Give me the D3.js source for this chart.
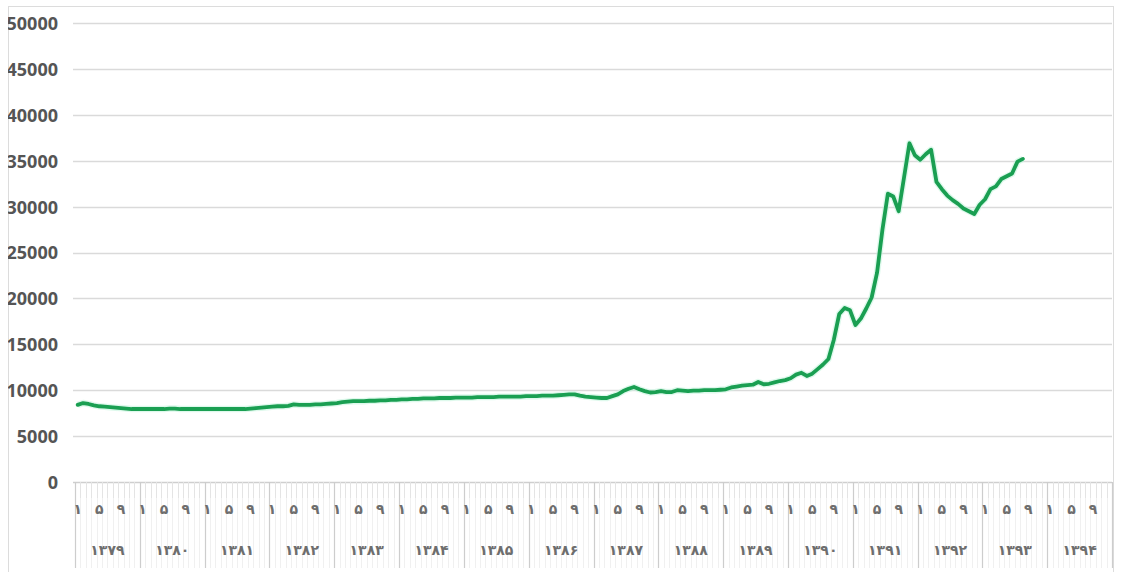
<!DOCTYPE html>
<html>
<head>
<meta charset="utf-8">
<script src="https://cdn.jsdelivr.net/npm/d3@7"></script>
<style>
  html, body { margin: 0; padding: 0; background: #ffffff; }
  svg { display: block; }
</style>
</head>
<body>
<svg id="chart" width="1123" height="572"></svg>
<script>
// Solar-hijri years shown on the category axis
const years = ["۱۳۷۹","۱۳۸۰","۱۳۸۱","۱۳۸۲","۱۳۸۳","۱۳۸۴","۱۳۸۵","۱۳۸۶",
               "۱۳۸۷","۱۳۸۸","۱۳۸۹","۱۳۹۰","۱۳۹۱","۱۳۹۲","۱۳۹۳","۱۳۹۴"];
// month numbers that get a label inside each year
const monthLabels = { 0: "۱", 4: "۵", 8: "۹" };
const yTicks = [0, 5000, 10000, 15000, 20000, 25000, 30000, 35000, 40000, 45000, 50000];

// monthly values, one array per year
const v1379 = [8400, 8600, 8500, 8350, 8250, 8200, 8150, 8100, 8050, 8000, 7950, 7950];
const v1380 = [7950, 7950, 7950, 7950, 7950, 8000, 8000, 7950, 7950, 7950, 7950, 7950];
const v1381 = [7950, 7950, 7950, 7950, 7950, 7950, 7950, 7950, 8000, 8050, 8100, 8150];
const v1382 = [8200, 8250, 8250, 8300, 8450, 8400, 8400, 8400, 8450, 8450, 8500, 8550];
const v1383 = [8600, 8700, 8750, 8800, 8800, 8800, 8850, 8850, 8900, 8900, 8950, 8950];
const v1384 = [9000, 9000, 9050, 9050, 9100, 9100, 9100, 9150, 9150, 9150, 9200, 9200];
const v1385 = [9200, 9200, 9250, 9250, 9250, 9250, 9300, 9300, 9300, 9300, 9300, 9350];
const v1386 = [9350, 9350, 9400, 9400, 9400, 9450, 9500, 9550, 9550, 9400, 9300, 9250];
const v1387 = [9200, 9150, 9150, 9350, 9550, 9900, 10150, 10350, 10100, 9900, 9750, 9800];
const v1388 = [9900, 9800, 9800, 10000, 9950, 9900, 9950, 9950, 10000, 10000, 10000, 10050];
const v1389 = [10100, 10300, 10400, 10500, 10550, 10600, 10900, 10650, 10700, 10850, 11000, 11100];
const v1390 = [11300, 11700, 11900, 11550, 11800, 12300, 12800, 13400, 15500, 18300, 18950, 18700];
const v1391 = [17100, 17800, 18900, 20100, 22800, 27500, 31400, 31100, 29500, 33200, 36900, 35600];
const v1392 = [35100, 35700, 36200, 32700, 31900, 31200, 30700, 30300, 29800, 29500, 29200, 30200];
const v1393 = [30800, 31900, 32200, 33000, 33300, 33600, 34900, 35200];

const yearly = [v1379, v1380, v1381, v1382, v1383, v1384, v1385, v1386,
                v1387, v1388, v1389, v1390, v1391, v1392, v1393];

const svg = d3.select("#chart");
const W = 1123, H = 572;
const plot = { left: 75, right: 1112, top: 23, bottom: 482 };
const axisBottom = 568;

// one band per month across all years
const monthKeys = [];
years.forEach((y, yi) => { for (let m = 0; m < 12; m++) monthKeys.push(yi * 12 + m); });
const x = d3.scaleBand().domain(monthKeys).range([plot.left, plot.right]).padding(0);
const y = d3.scaleLinear().domain([0, 50000]).range([plot.bottom, plot.top]);

const points = [];
yearly.forEach((arr, yi) => arr.forEach((v, m) => points.push({ k: yi * 12 + m, v })));

// outer frame
svg.append("rect")
  .attr("x", 8.5).attr("y", 6.5).attr("width", 1105).attr("height", 600)
  .attr("fill", "none").attr("stroke", "#dcdcdc").attr("stroke-width", 1);

// horizontal gridlines
svg.append("g").selectAll("line").data(yTicks).join("line")
  .attr("x1", plot.left - 2).attr("x2", plot.right)
  .attr("y1", d => Math.round(y(d)) + 0.5).attr("y2", d => Math.round(y(d)) + 0.5)
  .attr("stroke", d => d === 0 ? "#cfcfcf" : "#dadada")
  .attr("stroke-width", 1.6);

// value axis labels, clipped by the frame edge
svg.append("clipPath").attr("id", "yclip")
  .append("rect").attr("x", 8).attr("y", 0).attr("width", 80).attr("height", H);
const yAxis = d3.axisLeft(y).tickValues(yTicks).tickSize(0).tickPadding(0).tickFormat(d3.format("d"));
const yg = svg.append("g")
  .attr("clip-path", "url(#yclip)")
  .append("g")
  .attr("transform", "translate(58,0)")
  .call(yAxis);
yg.select(".domain").remove();
yg.selectAll("text")
  .attr("font-family", "'Open Sans', sans-serif")
  .attr("font-weight", 700)
  .attr("font-size", 18)
  .attr("fill", "#555555")
  .attr("dy", "0.36em");

// category axis: month ticks and year separators
const cat = svg.append("g");
const monthEdges = monthKeys.map(k => x(k)).concat([plot.right]);
cat.selectAll("line.m").data(monthEdges).join("line")
  .attr("class", "m")
  .attr("x1", d => Math.round(d) + 0.5).attr("x2", d => Math.round(d) + 0.5)
  .attr("y1", plot.bottom).attr("y2", axisBottom)
  .attr("stroke", "#f0f0f0").attr("stroke-width", 1);
cat.selectAll("line.mt").data(monthEdges).join("line")
  .attr("class", "mt")
  .attr("x1", d => Math.round(d) + 0.5).attr("x2", d => Math.round(d) + 0.5)
  .attr("y1", plot.bottom).attr("y2", plot.bottom + 16)
  .attr("stroke", "#e4e4e4").attr("stroke-width", 1);
const yearEdges = d3.range(years.length + 1).map(i => i < years.length ? x(i * 12) : plot.right);
cat.selectAll("line.yr").data(yearEdges).join("line")
  .attr("class", "yr")
  .attr("x1", d => Math.round(d) + 0.5).attr("x2", d => Math.round(d) + 0.5)
  .attr("y1", plot.bottom).attr("y2", axisBottom)
  .attr("stroke", "#cdcdcd").attr("stroke-width", 1.2);

// month labels
const mLab = [];
years.forEach((yr, yi) => Object.keys(monthLabels).forEach(m => mLab.push({ k: yi * 12 + (+m), t: monthLabels[m] })));
cat.selectAll("text.m").data(mLab).join("text")
  .attr("class", "m")
  .attr("x", d => x(d.k) + x.bandwidth() / 2)
  .attr("y", 510)
  .attr("text-anchor", "middle")
  .attr("dominant-baseline", "middle")
  .attr("font-family", "'DejaVu Sans', sans-serif")
  .attr("font-weight", "bold")
  .attr("font-size", 14)
  .attr("fill", "#6e6e6e")
  .text(d => d.t);

// year labels
cat.selectAll("text.y").data(years).join("text")
  .attr("class", "y")
  .attr("x", (d, i) => x(i * 12) + x.bandwidth() * 6)
  .attr("y", 551)
  .attr("text-anchor", "middle")
  .attr("dominant-baseline", "middle")
  .attr("font-family", "'DejaVu Sans', sans-serif")
  .attr("font-weight", "bold")
  .attr("font-size", 14)
  .attr("fill", "#6e6e6e")
  .text(d => d);

// price line
const line = d3.line()
  .x(d => x(d.k) + x.bandwidth() / 2)
  .y(d => y(d.v))
  .curve(d3.curveLinear);

svg.append("path")
  .datum(points)
  .attr("d", line)
  .attr("fill", "none")
  .attr("stroke", "#c8f5e0")
  .attr("stroke-width", 6.5)
  .attr("stroke-linejoin", "round")
  .attr("opacity", 0.6);

svg.append("path")
  .datum(points)
  .attr("d", line)
  .attr("fill", "none")
  .attr("stroke", "#1a9f52")
  .attr("stroke-width", 3.8)
  .attr("stroke-linejoin", "round")
  .attr("stroke-linecap", "round");
</script>
</body>
</html>
